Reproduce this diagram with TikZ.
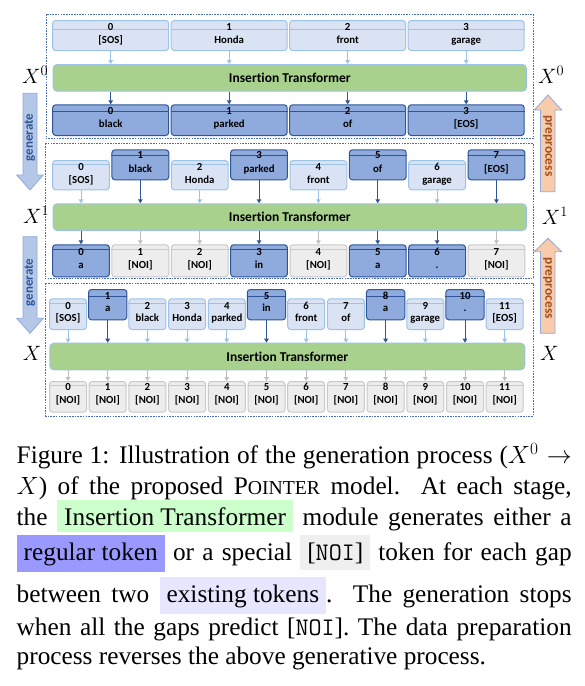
\documentclass[tikz,border=0pt]{standalone}
\usepackage{fontspec}
\setmainfont{Liberation Serif}
\newfontfamily\calib[Ligatures=NoCommon]{Carlito}
\usetikzlibrary{arrows.meta}

\definecolor{fillL}{HTML}{DAE3F3}
\definecolor{drawL}{HTML}{9DC3E6}
\definecolor{arrL}{HTML}{9DC3E6}
\definecolor{fillD}{HTML}{8FAADC}
\definecolor{drawD}{HTML}{2F5597}
\definecolor{arrD}{HTML}{2F5597}
\definecolor{fillN}{HTML}{EDEDED}
\definecolor{drawN}{HTML}{C9C9C9}
\definecolor{arrN}{HTML}{BFBFBF}
\definecolor{greenfill}{HTML}{A9D18E}
\definecolor{panelcol}{HTML}{4A6FB0}
\definecolor{genfill}{HTML}{B4C7E7}
\definecolor{genedge}{HTML}{8FAADC}
\definecolor{gentext}{HTML}{2F5597}
\definecolor{prefill}{HTML}{F8CBAD}
\definecolor{pretext}{HTML}{A0501A}
\definecolor{capgreen}{HTML}{CCFFCC}
\definecolor{capblue}{HTML}{9999FF}
\definecolor{capgray}{HTML}{EFEFEF}
\definecolor{caplav}{HTML}{E6E6FF}

% name, kind, cx, top, width, height, divider offset
\newcommand\tokbox[7]{%
  \node[tok=#2, minimum width=#5pt, minimum height=#6pt] (#1) at (#3,#4) {};
  \draw[div=#2] ([yshift=-#7pt]#1.north west) -- ([yshift=-#7pt]#1.north east);
}
% name, number offset, word offset, number, word
\newcommand\toktext[5]{%
  \node[txt] (#1-n) at ([yshift=-#2pt]#1.north) {#4};
  \node[txt] (#1-w) at ([yshift=-#3pt]#1.north) {#5};
}
\newcommand\capbox[2]{{\setlength{\fboxsep}{7pt}\colorbox{#1}{#2}}}

\begin{document}
\begin{tikzpicture}[x=1pt,y=-1pt,
  tok/.style={draw=draw#1, fill=fill#1, rounded corners=3pt, line width=1pt, inner sep=0pt, anchor=north},
  div/.style={draw=draw#1, line width=0.8pt},
  txt/.style={font=\calib\bfseries\fontsize{10.8}{12}\selectfont, inner sep=0pt, text height=7.5pt, text depth=2.5pt},
  trans/.style={draw=drawL, fill=greenfill, rounded corners=4pt, line width=1pt, anchor=north west, inner sep=0pt, font=\calib\bfseries\fontsize{13.5}{16}\selectfont},
  ar/.style={draw=arr#1, line width=1pt, -{Triangle[length=4pt,width=4.5pt]}},
  panel/.style={draw=panelcol, line width=0.7pt, dash pattern=on 1.6pt off 1.1pt},
  gentxt/.style={font=\calib\bfseries\fontsize{13}{15}\selectfont, text=gentext, inner sep=0pt},
  pretxt/.style={font=\calib\bfseries\fontsize{13.5}{15}\selectfont, text=pretext, inner sep=0pt},
  xlab/.style={font=\fontsize{20}{24}\selectfont, inner sep=0pt, anchor=base west},
  capline/.style={anchor=base west, inner sep=0pt, font=\fontsize{25.3}{30.4}\selectfont},
]
\fill[white] (0,0) rectangle (585,686);
\useasboundingbox (0,0) rectangle (585,686);

% ---------- panels ----------
\draw[panel] (46,14) rectangle (533,138.5);
\draw[panel] (45,143.3) rectangle (533,278.5);
\draw[panel] (45.7,283) rectangle (533,416);

% ---------- panel 1 ----------
\node[trans, minimum width=473.3pt, minimum height=26.7pt] (T1) at (52.7,64) {Insertion Transformer};
\foreach \i/\w in {0/{[SOS]},1/Honda,2/front,3/garage}{
  \pgfmathsetmacro\cx{110.7+118.5*\i}
  \tokbox{pa\i}{L}{\cx}{20}{116}{30}{9}
  \toktext{pa\i}{7.5}{21}{\i}{\w}
  \draw[ar=L] (pa\i.south) -- (pa\i.south |- T1.north);
}
\foreach \i/\w in {0/black,1/parked,2/of,3/{[EOS]}}{
  \pgfmathsetmacro\cx{110.7+118.5*\i}
  \tokbox{pb\i}{D}{\cx}{104.3}{116}{30.7}{7.5}
  \toktext{pb\i}{7.7}{21}{\i}{\w}
  \draw[ar=D] (T1.south -| pb\i.north) -- (pb\i.north);
}

% ---------- panel 2 ----------
\node[trans, minimum width=473.3pt, minimum height=26.7pt] (T2) at (52.7,203.3) {Insertion Transformer};
\foreach \i/\k/\t/\h/\d/\no/\wo/\w in {
  0/L/160/29.3/4.5/8/21/{[SOS]},
  1/D/149.3/30/6/6.4/20.4/black,
  2/L/160/29.3/4.5/8/21/Honda,
  3/D/149.3/30/6/6.4/20.4/parked,
  4/L/160/29.3/4.5/8/21/front,
  5/D/149.3/30/6/6.4/20.4/of,
  6/L/160/29.3/4.5/8/21/garage,
  7/D/149.3/30/6/6.4/20.4/{[EOS]}}{
  \pgfmathsetmacro\cx{81+59.35*\i}
  \tokbox{qa\i}{\k}{\cx}{\t}{56.8}{\h}{\d}
  \toktext{qa\i}{\no}{\wo}{\i}{\w}
  \draw[ar=\k] (qa\i.south) -- (qa\i.south |- T2.north);
}
\foreach \i/\k/\w in {0/D/a,1/N/{[NOI]},2/N/{[NOI]},3/D/in,4/N/{[NOI]},5/D/a,6/D/{.},7/N/{[NOI]}}{
  \pgfmathsetmacro\cx{81+59.35*\i}
  \tokbox{qb\i}{\k}{\cx}{244.3}{56.8}{32}{5}
  \toktext{qb\i}{8.7}{21.7}{\i}{\w}
  \draw[ar=\k] (T2.south -| qb\i.north) -- (qb\i.north);
}

% ---------- panel 3 ----------
\node[trans, minimum width=475pt, minimum height=26.6pt] (T3) at (49.3,342.7) {Insertion Transformer};
\foreach \i/\k/\t/\bw/\h/\d/\no/\wo/\w in {
  0/L/298.3/37/30.7/5/8.7/21/{[SOS]},
  1/D/289/38.4/30.3/7/7.7/20.3/a,
  2/L/298.3/37/30.7/5/8.7/21/black,
  3/L/298.3/37/30.7/5/8.7/21/Honda,
  4/L/298.3/37/30.7/5/8.7/21/parked,
  5/D/289/38.4/30.3/7/7.7/20.3/in,
  6/L/298.3/37/30.7/5/8.7/21/front,
  7/L/298.3/37/30.7/5/8.7/21/of,
  8/D/289/38.4/30.3/7/7.7/20.3/a,
  9/L/298.3/37/30.7/5/8.7/21/garage,
  10/D/289/38.4/30.3/7/7.7/20.3/{.},
  11/L/298.3/37/30.7/5/8.7/21/{[EOS]}}{
  \pgfmathsetmacro\cx{68+39.7*\i}
  \tokbox{ra\i}{\k}{\cx}{\t}{\bw}{\h}{\d}
  \toktext{ra\i}{\no}{\wo}{\i}{\w}
  \draw[ar=\k] (ra\i.south) -- (ra\i.south |- T3.north);
}
\foreach \i in {0,...,11}{
  \pgfmathsetmacro\cx{68+39.7*\i}
  \tokbox{rb\i}{N}{\cx}{381}{37}{30.7}{4}
  \toktext{rb\i}{7}{19.7}{\i}{[NOI]}
  \draw[ar=N] (T3.south -| rb\i.north) -- (rb\i.north);
}

% ---------- side arrows ----------
\filldraw[fill=genfill, draw=genedge, line width=0.8pt]
  (23,93.3) -- (37,93.3) -- (37,175) -- (43.3,175) -- (30,190) -- (16.7,175) -- (23,175) -- cycle;
\filldraw[fill=genfill, draw=genedge, line width=0.8pt]
  (23,236.7) -- (37,236.7) -- (37,318.3) -- (43.3,318.3) -- (30,333.3) -- (16.7,318.3) -- (23,318.3) -- cycle;
\node[gentxt, rotate=90] (gen1) at (30,137.5) {generate};
\node[gentxt, rotate=90] (gen2) at (30,282.5) {generate};

\filldraw[fill=prefill, draw=genedge, line width=0.8pt]
  (548,95) -- (561.7,110) -- (555,110) -- (555,191.7) -- (540.5,191.7) -- (540.5,110) -- (534.3,110) -- cycle;
\filldraw[fill=prefill, draw=genedge, line width=0.8pt]
  (548,238.3) -- (561.7,251.7) -- (555,251.7) -- (555,333.3) -- (540.5,333.3) -- (540.5,251.7) -- (534.3,251.7) -- cycle;
\node[pretxt, rotate=-90] (pre1) at (547.7,146) {preprocess};
\node[pretxt, rotate=-90] (pre2) at (547.7,288.5) {preprocess};

% ---------- X labels ----------
\node[xlab] (xl0) at (22,83.3) {$X^0$};
\node[xlab] (xl1) at (23,223.3) {$X^1$};
\node[xlab] (xl2) at (22.7,360) {$X$};
\node[xlab] (xr0) at (538,83.3) {$X^0$};
\node[xlab] (xr1) at (541.7,224) {$X^1$};
\node[xlab] (xr2) at (540,360) {$X$};

% ---------- caption ----------
\node[capline] (c1) at (16.5,463.3) {\makebox[555pt][s]{Figure 1: Illustration of the generation process ($X^0 \rightarrow$}};
\node[capline] (c2) at (16.5,494) {\makebox[555pt][s]{$X$) of the proposed P{\fontsize{19.7}{22}\selectfont OINTER} model. At each stage,}};
\node[capline] (c3) at (16.5,525) {\makebox[555pt][s]{the \capbox{capgreen}{Insertion Transformer} module generates either a}};
\node[capline] (c4) at (16.5,560) {\makebox[555pt][s]{\capbox{capblue}{regular token} or a special \capbox{capgray}{[\texttt{NOI}]} token for each gap}};
\node[capline] (c5) at (16.5,602) {\makebox[555pt][s]{between two \capbox{caplav}{existing tokens}. The generation stops}};
\node[capline] (c6) at (16.5,635) {\makebox[555pt][s]{when all the gaps predict [\texttt{NOI}]. The data preparation}};
\node[capline] (c7) at (16.5,664) {process reverses the above generative process.};
\end{tikzpicture}
\end{document}
